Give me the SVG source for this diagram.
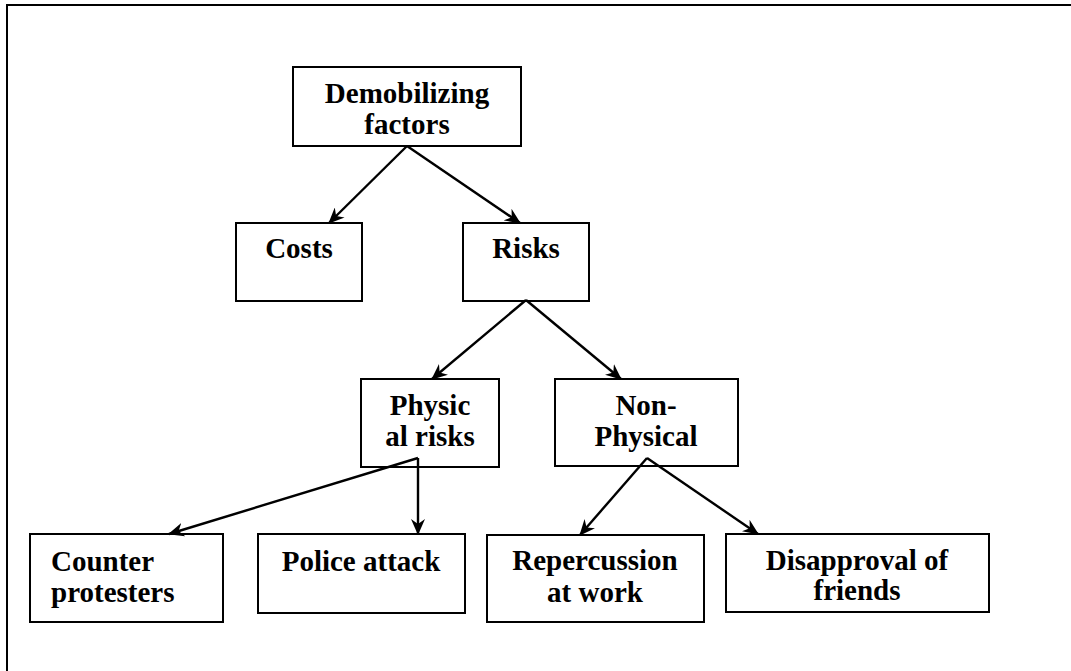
<svg xmlns="http://www.w3.org/2000/svg" width="1071" height="671" viewBox="0 0 1071 671">
<style>
.box{fill:#fff;stroke:#000;stroke-width:2}
.t{font-family:"Liberation Serif","Times New Roman",serif;font-weight:bold;font-size:29px;fill:#000}
.c{text-anchor:middle}
.e{fill:none;stroke:#000;stroke-width:2.4;marker-end:url(#ah)}
</style>
<defs>
<marker id="ah" markerUnits="userSpaceOnUse" viewBox="0 0 16 14" refX="15" refY="7" markerWidth="16" markerHeight="14" orient="auto">
<path d="M0,0 L16,7 L0,14 L5,7 z" fill="#000"/>
</marker>
</defs>
<rect width="1071" height="671" fill="#fff"/>
<path d="M7,671 V5 H1071" fill="none" stroke="#000" stroke-width="2"/>
<g id="demobilizing">
<rect class="box" x="293" y="67" width="228" height="79"/>
<text class="t c" x="407" y="103">Demobilizing</text>
<text class="t c" x="407" y="134">factors</text>
</g>
<g id="costs">
<rect class="box" x="236" y="223" width="126" height="78"/>
<text class="t c" x="299" y="258">Costs</text>
</g>
<g id="risks">
<rect class="box" x="463" y="223" width="126" height="78"/>
<text class="t c" x="526" y="258">Risks</text>
</g>
<g id="physical">
<rect class="box" x="361" y="379" width="138" height="88"/>
<text class="t c" x="430" y="415">Physic</text>
<text class="t c" x="430" y="446">al risks</text>
</g>
<g id="nonphysical">
<rect class="box" x="555" y="379" width="183" height="87"/>
<text class="t c" x="646" y="415">Non-</text>
<text class="t c" x="646" y="446">Physical</text>
</g>
<g id="counter">
<rect class="box" x="30" y="534" width="193" height="88"/>
<text class="t" x="51" y="571">Counter</text>
<text class="t" x="51" y="602">protesters</text>
</g>
<g id="police">
<rect class="box" x="258" y="534" width="207" height="79"/>
<text class="t c" x="361" y="571">Police attack</text>
</g>
<g id="repercussion">
<rect class="box" x="487" y="535" width="217" height="87"/>
<text class="t c" x="595" y="570">Repercussion</text>
<text class="t c" x="595" y="602">at work</text>
</g>
<g id="disapproval">
<rect class="box" x="726" y="534" width="263" height="78"/>
<text class="t c" x="857" y="570">Disapproval of</text>
<text class="t c" x="857" y="600">friends</text>
</g>
<g id="connectors">
<line class="e" x1="407" y1="146" x2="329" y2="223"/>
<line class="e" x1="407" y1="146" x2="520" y2="223"/>
<line class="e" x1="526" y1="300" x2="432" y2="379"/>
<line class="e" x1="526" y1="300" x2="621" y2="379"/>
<line class="e" x1="418" y1="458" x2="169" y2="534"/>
<line class="e" x1="418" y1="458" x2="418" y2="534"/>
<line class="e" x1="647" y1="458" x2="580" y2="535"/>
<line class="e" x1="647" y1="458" x2="758" y2="534"/>
</g>
</svg>
